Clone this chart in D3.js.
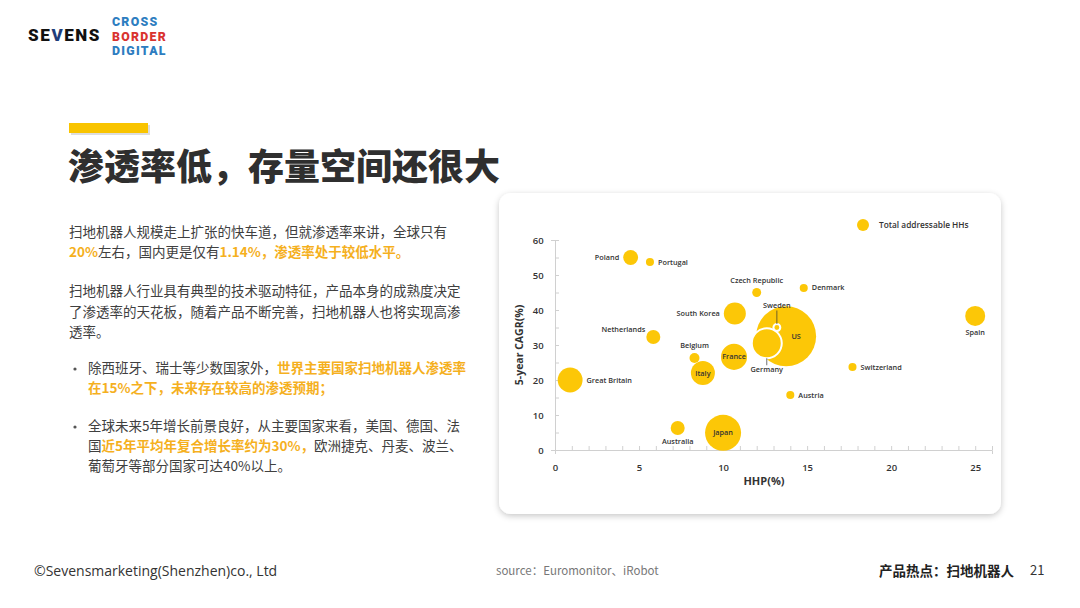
<!DOCTYPE html>
<html>
<head>
<meta charset="utf-8">
<script src="https://cdn.jsdelivr.net/npm/d3@7"></script>
<style>
  body { margin:0; background:#fff; }
  svg { display:block; font-family:"Noto Sans CJK SC", "Noto Sans", sans-serif; }
</style>
</head>
<body>
<svg id="slide" width="1080" height="608"></svg>
<script>
// bubble data
var countries = ["Poland","Portugal","Czech Republic","Denmark","South Korea","US","Germany","Sweden",
                 "Netherlands","Belgium","France","Italy","Great Britain","Switzerland","Austria",
                 "Australia","Japan","Spain"];
var hhp  = [4.5, 5.65, 12.0, 14.8, 10.7, 13.75, 12.6, 13.2, 5.85, 8.3, 10.65, 8.8, 0.9, 17.7, 14.0, 7.3, 10.0, 25.0];
var cagr = [55, 53.7, 45, 46.3, 39, 32.5, 30.5, 35, 32.3, 26.3, 26.6, 22, 20, 23.7, 15.7, 6.3, 4.9, 38.3];
var households = [7.5, 2.2, 2.7, 2.2, 16.4, 122, 30.5, 1.6, 6.6, 3.4, 23, 19.5, 21, 2.2, 2.2, 6.6, 44, 13.6];
// where each name sits relative to its bubble
var labelPlace = ["left","right","above","right","left","inside","below","above",
                  "aboveleft","above","inside","inside","right","right","right","below","inside","below"];
var xTicks = [0,5,10,15,20,25];
var yTicks = [0,10,20,30,40,50,60];

var hl = "#F5B01E";
var bubbleColor = "#FCC707";

var svg = d3.select("#slide");

// ---------- logo ----------
var logo = svg.append("g");
logo.append("text").attr("x",28).attr("y",41).attr("font-family","Roboto, sans-serif")
  .attr("font-weight",900).attr("font-size",17).attr("fill","#111").attr("letter-spacing",1.6)
  .html('S<tspan>E</tspan><tspan fill="#1f3d7a">V</tspan>ENS');
var cbd = [["CROSS","#2d7dc0",26],["BORDER","#d9332f",40.5],["DIGITAL","#2d7dc0",55]];
cbd.forEach(function(r){
  logo.append("text").attr("x",112).attr("y",r[2]).attr("font-family","Roboto, sans-serif")
    .attr("font-weight",900).attr("font-size",12.3).attr("letter-spacing",1.3)
    .attr("fill",r[1]).text(r[0]);
});

// ---------- title ----------
svg.append("rect").attr("x",71).attr("y",125).attr("width",79).attr("height",10).attr("fill","#bbb").attr("opacity",0.5);
svg.append("rect").attr("x",69).attr("y",123).attr("width",79).attr("height",10).attr("fill","#F9C400");
svg.append("text").attr("x",68).attr("y",180).attr("font-size",36).attr("font-weight",900)
  .attr("fill","#2f2f2f").text("渗透率低，存量空间还很大");

// ---------- body text ----------
var lines = [
  {x:69, y:237, segs:[["扫地机器人规模走上扩张的快车道，但就渗透率来讲，全球只有",0]]},
  {x:69, y:257, segs:[["20%",1],["左右，国内更是仅有",0],["1.14%",1],["，渗透率处于较低水平。",1]]},
  {x:69, y:296, segs:[["扫地机器人行业具有典型的技术驱动特征，产品本身的成熟度决定",0]]},
  {x:69, y:317, segs:[["了渗透率的天花板，随着产品不断完善，扫地机器人也将实现高渗",0]]},
  {x:69, y:337, segs:[["透率。",0]]},
  {x:88, y:373, segs:[["除西班牙、瑞士等少数国家外，",0],["世界主要国家扫地机器人渗透率",1]]},
  {x:88, y:393, segs:[["在15%之下，未来存在较高的渗透预期；",1]]},
  {x:88, y:431, segs:[["全球未来5年增长前景良好，从主要国家来看，美国、德国、法",0]]},
  {x:88, y:451, segs:[["国",0],["近5年平均年复合增长率约为30%，",1],["欧洲捷克、丹麦、波兰、",0]]},
  {x:88, y:471, segs:[["葡萄牙等部分国家可达40%以上。",0]]}
];
lines.forEach(function(l){
  var t = svg.append("text").attr("x",l.x).attr("y",l.y).attr("font-size",13.5).attr("fill","#404040");
  l.segs.forEach(function(s){
    t.append("tspan").text(s[0]).attr("fill", s[1] ? hl : "#404040").attr("font-weight", s[1] ? 700 : 400);
  });
});
[369, 427].forEach(function(y){
  svg.append("circle").attr("cx",75).attr("cy",y).attr("r",1.6).attr("fill","#555");
});

// ---------- chart card ----------
var defs = svg.append("defs");
var f = defs.append("filter").attr("id","shadow").attr("x","-10%").attr("y","-10%").attr("width","120%").attr("height","125%");
f.append("feDropShadow").attr("dx",0).attr("dy",2).attr("stdDeviation",3).attr("flood-color","#000").attr("flood-opacity",0.22);
svg.append("rect").attr("x",499).attr("y",193).attr("width",502).attr("height",321).attr("rx",12)
  .attr("fill","#fff").attr("filter","url(#shadow)");

var x = d3.scaleLinear().domain([0,26]).range([555,992]);
var y = d3.scaleLinear().domain([0,60]).range([450,240]);
var r = d3.scaleSqrt().domain([0,122]).range([0,30]);

var chart = svg.append("g").attr("font-family","'Open Sans', sans-serif");

var xAxis = chart.append("g").attr("transform","translate(0,450)")
  .call(d3.axisBottom(x).tickValues(d3.range(0,27,1)).tickSize(4)
    .tickFormat(function(d){ return xTicks.indexOf(d) >= 0 ? d : ""; }));
var yAxis = chart.append("g").attr("transform","translate(555,0)")
  .call(d3.axisLeft(y).tickValues(d3.range(0,61,5)).tickSize(4)
    .tickFormat(function(d){ return yTicks.indexOf(d) >= 0 ? d : ""; }));
[xAxis, yAxis].forEach(function(a){
  a.select(".domain").attr("stroke","#d0d0d0");
  a.selectAll(".tick line").attr("stroke","#d0d0d0");
  a.selectAll(".tick text").attr("font-size",9.5).attr("font-weight",600).attr("fill","#333")
   .attr("font-family","'Open Sans', sans-serif");
});
xAxis.selectAll(".tick line").attr("y2",-4);
yAxis.selectAll(".tick line").attr("x2",4);
xAxis.selectAll(".tick text").attr("dy","1.45em");
yAxis.selectAll(".tick text").attr("dx","-0.45em");

chart.append("text").attr("x",764).attr("y",485).attr("text-anchor","middle")
  .attr("font-size",11).attr("font-weight",700).attr("fill","#333").text("HHP(%)");
chart.append("text").attr("transform","translate(523,345) rotate(-90)").attr("text-anchor","middle")
  .attr("font-size",10.5).attr("font-weight",700).attr("fill","#333").text("5-year CAGR(%)");

// draw bubbles biggest first so small ones stay visible
var data = countries.map(function(c,i){
  return {name:c, x:hhp[i], y:cagr[i], v:households[i], place:labelPlace[i]};
});
var order = data.slice().sort(function(a,b){ return b.v - a.v; });
chart.selectAll("circle.bub").data(order).enter().append("circle").attr("class","bub")
  .attr("cx",function(d){ return x(d.x); })
  .attr("cy",function(d){ return y(d.y); })
  .attr("r",function(d){ return r(d.v); })
  .attr("fill",bubbleColor)
  .attr("stroke",function(d){ return (d.name=="Germany"||d.name=="Sweden") ? "#fff" : "none"; })
  .attr("stroke-width",2);

// leader lines for Sweden and Germany
data.filter(function(d){ return d.name=="Sweden" || d.name=="Germany"; }).forEach(function(d){
  var cx = x(d.x), cy = y(d.y), rr = r(d.v);
  var y1 = d.place=="above" ? cy - rr : cy + rr;
  var y2 = d.place=="above" ? cy - 17 : cy + 22;
  chart.append("line").attr("x1",cx).attr("x2",cx).attr("y1",y1).attr("y2",y2)
    .attr("stroke","#333").attr("stroke-width",0.7);
});

chart.selectAll("text.lbl").data(data).enter().append("text").attr("class","lbl")
  .attr("font-size",7.3).attr("font-weight",600).attr("fill","#333")
  .attr("text-anchor",function(d){
    if (d.place=="left" || d.place=="aboveleft") return "end";
    if (d.place=="right") return "start";
    return "middle";
  })
  .attr("x",function(d){
    var cx = x(d.x), rr = r(d.v);
    if (d.place=="left") return cx - rr - 4;
    if (d.place=="aboveleft") return cx - 8;
    if (d.place=="right") return cx + rr + 4;
    if (d.name=="US") return cx + 10;
    return cx;
  })
  .attr("y",function(d){
    var cy = y(d.y), rr = r(d.v);
    if (d.place=="above") return d.name=="Sweden" ? cy - 20 : cy - rr - 5;
    if (d.place=="aboveleft") return cy - 5;
    if (d.place=="below") return d.name=="Germany" ? cy + 29 : cy + rr + 9;
    return cy + 2.5;
  })
  .text(function(d){ return d.name; });

// legend
chart.append("circle").attr("cx",863).attr("cy",225).attr("r",6).attr("fill",bubbleColor);
chart.append("text").attr("x",879).attr("y",228).attr("font-size",8.3).attr("font-weight",600)
  .attr("fill","#333").text("Total addressable HHs");

// ---------- footer ----------
svg.append("text").attr("x",34).attr("y",576).attr("font-size",14).attr("fill","#333")
  .attr("font-family","'Open Sans', sans-serif").text("©Sevensmarketing(Shenzhen)co., Ltd");
svg.append("text").attr("x",496).attr("y",575).attr("font-size",11.5).attr("fill","#777").text("source：Euromonitor、iRobot");
svg.append("text").attr("x",879).attr("y",576).attr("font-size",13.5).attr("font-weight",700).attr("fill","#222").text("产品热点：扫地机器人");
svg.append("text").attr("x",1030).attr("y",575).attr("font-size",13).attr("fill","#333").text("21");
</script>
</body>
</html>
